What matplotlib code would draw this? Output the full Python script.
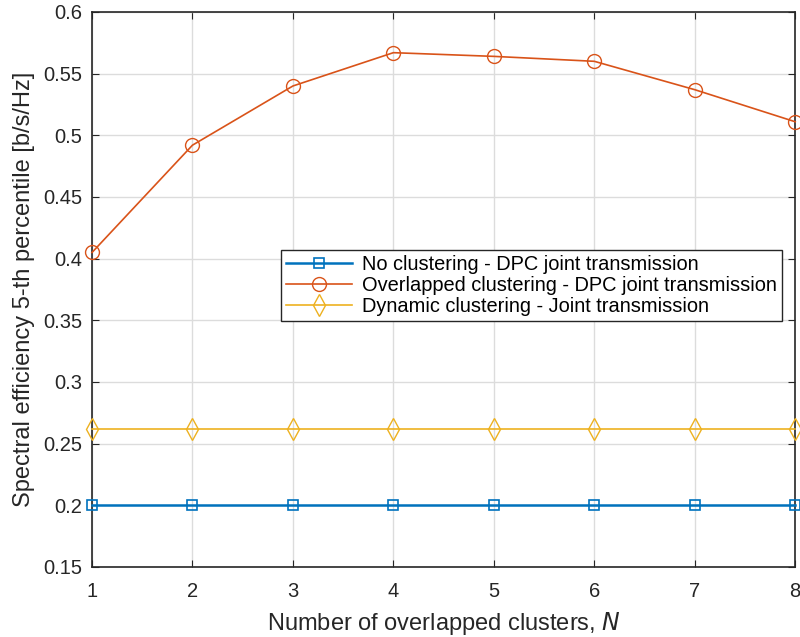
import matplotlib
matplotlib.use("Agg")
import matplotlib.pyplot as plt
import numpy as np

plt.rcParams['font.family'] = ['Liberation Sans', 'DejaVu Sans']

N = [1, 2, 3, 4, 5, 6, 7, 8]
no_clustering = [0.2, 0.2, 0.2, 0.2, 0.2, 0.2, 0.2, 0.2]
overlapped = [0.405, 0.492, 0.540, 0.567, 0.564, 0.560, 0.537, 0.511]
dynamic = [0.262, 0.262, 0.262, 0.262, 0.262, 0.262, 0.262, 0.262]
labels = ["No clustering - DPC joint transmission",
          "Overlapped clustering - DPC joint transmission",
          "Dynamic clustering - Joint transmission"]
yticks = [0.15, 0.2, 0.25, 0.3, 0.35, 0.4, 0.45, 0.5, 0.55, 0.6]
ytick_labels = ["0.15", "0.2", "0.25", "0.3", "0.35", "0.4", "0.45", "0.5", "0.55", "0.6"]

fig = plt.figure(figsize=(8, 6.37), dpi=100)
ax = fig.add_axes([0.115, 0.1099, 0.879, 0.8713])

ax.plot(N, no_clustering, '-s', color='#0072BD', lw=1.8, ms=7, mfc='none', mew=1.2, label=labels[0], clip_on=False, zorder=3)
ax.plot(N, overlapped, '-o', color='#D95319', lw=1.2, ms=10, mfc='none', mew=1.0, label=labels[1], clip_on=False, zorder=3)
ax.plot(N, dynamic, '-d', color='#EDB120', lw=1.2, ms=11, mfc='none', mew=1.0, label=labels[2], clip_on=False, zorder=3)

ax.set_xlim(1, 8)
ax.set_ylim(0.15, 0.6)
ax.set_xticks(N)
ax.set_yticks(yticks)
ax.set_yticklabels(ytick_labels)
ax.grid(True, color='#dcdcdc', lw=1.0)
ax.set_axisbelow(True)
ax.tick_params(direction='in', labelsize=14.5, length=5, top=True, right=True, colors='#262626')
ax.tick_params(axis='x', pad=11)
ax.tick_params(axis='y', pad=7)
for sp in ax.spines.values():
    sp.set_color('#262626')
    sp.set_linewidth(1.2)

ax.set_xlabel("Number of overlapped clusters, $\\it{N}$", fontsize=17, color='#262626', labelpad=6)
ax.set_ylabel("Spectral efficiency 5-th percentile [b/s/Hz]", fontsize=17, color='#262626', labelpad=6)

leg = ax.legend(loc='upper left', bbox_to_anchor=(0.269, 0.571), fontsize=14.4, frameon=True,
                fancybox=False, edgecolor='#262626', framealpha=1, borderpad=0.25,
                labelspacing=0.1, handlelength=3.3, handletextpad=0.5, borderaxespad=0)
leg.get_frame().set_linewidth(1.0)

fig.savefig("out.png", dpi=100)
